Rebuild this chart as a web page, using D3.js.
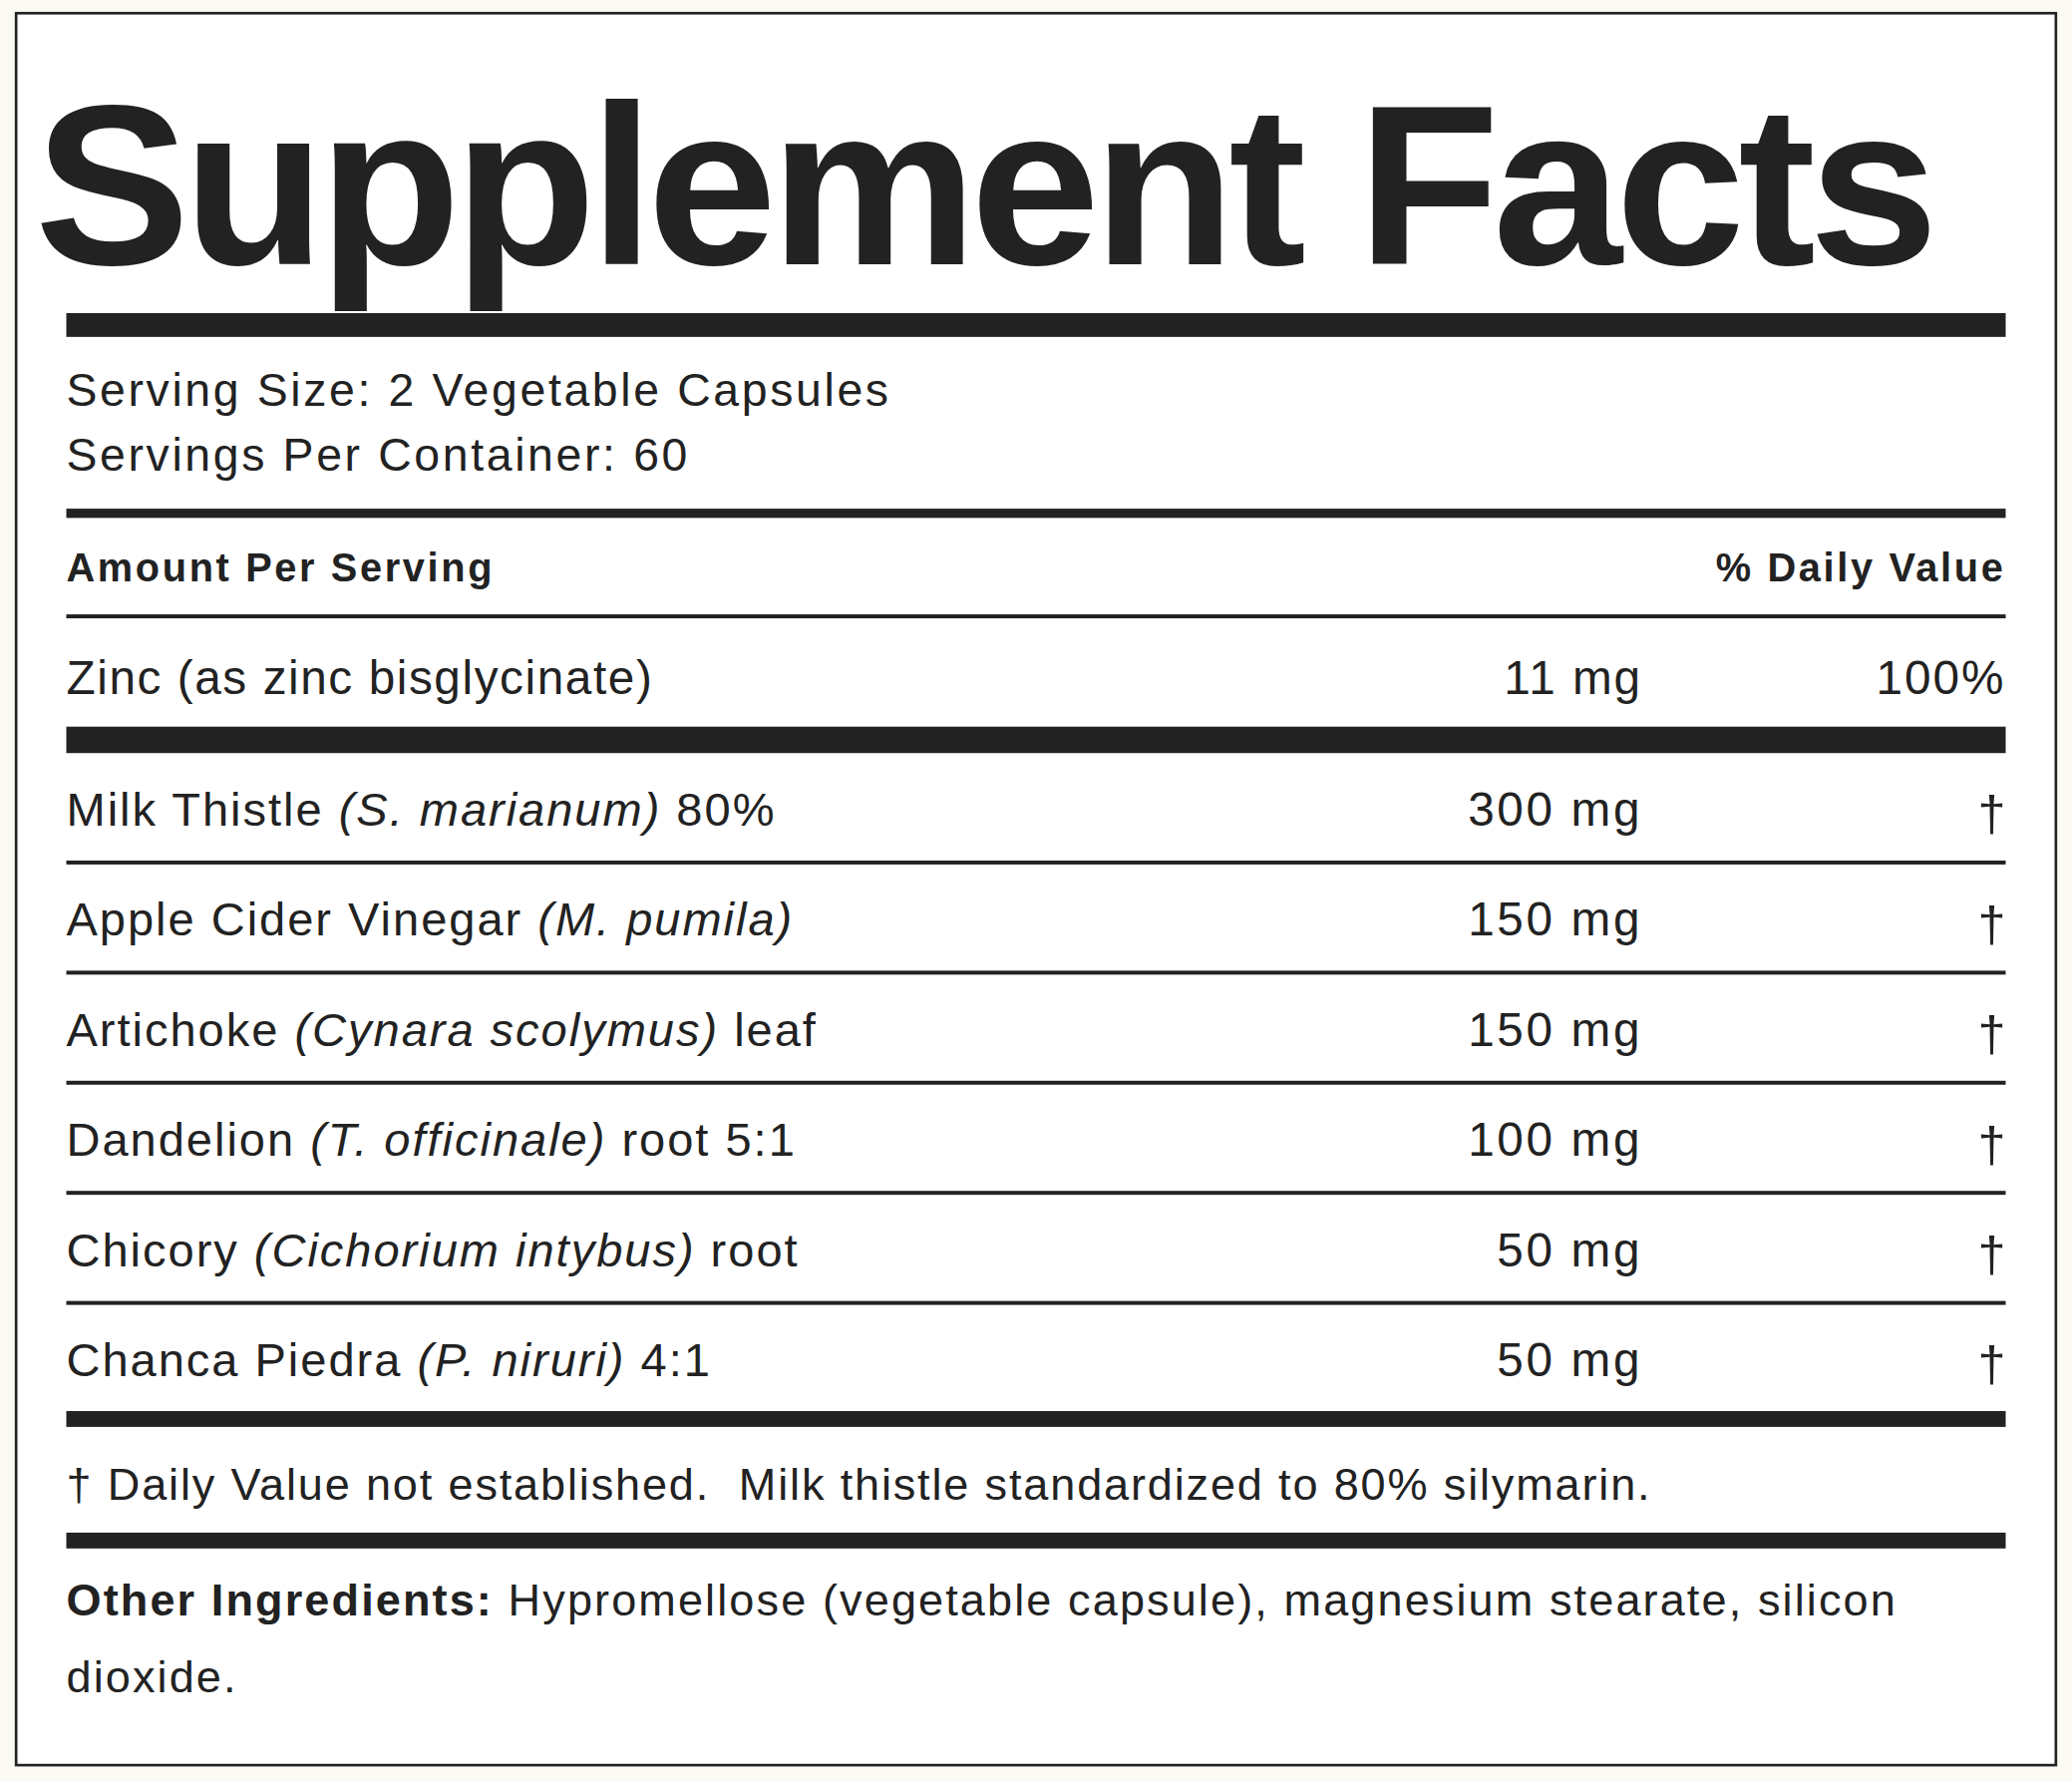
<!DOCTYPE html>
<html>
<head>
<meta charset="utf-8">
<script src="https://cdn.jsdelivr.net/npm/d3@7"></script>
<style>
  html, body { margin: 0; padding: 0; background: #fbfbf4; }
  svg { display: block; }
</style>
</head>
<body>
<svg id="chart"></svg>
<script>
// label data
const title = 'Supplement Facts'
const servingLines = ['Serving Size: 2 Vegetable Capsules', 'Servings Per Container: 60']
const zinc = { name: 'Zinc (as zinc bisglycinate)', amount: '11 mg', dv: '100%' }
const names = ['Milk Thistle', 'Apple Cider Vinegar', 'Artichoke', 'Dandelion', 'Chicory', 'Chanca Piedra']
const latin = ['(S. marianum)', '(M. pumila)', '(Cynara scolymus)', '(T. officinale)', '(Cichorium intybus)', '(P. niruri)']
const suffix = ['80%', '', 'leaf', 'root 5:1', 'root', '4:1']
const amounts = [300, 150, 150, 100, 50, 50]
const footnote = '\u2020 Daily Value not established.\u00a0 Milk thistle standardized to 80% silymarin.'
const otherIngredients = ['Hypromellose (vegetable capsule), magnesium stearate, silicon', 'dioxide.']

const W = 1568, H = 1348
const ink = '#222'
const font = '"Liberation Sans", Arial, Helvetica, sans-serif'

const svg = d3.select('#chart')
  .attr('width', 2078).attr('height', 1786)
  .attr('viewBox', `0 0 ${W} ${H}`)
  .style('font-family', font)

svg.append('rect').attr('x', 12).attr('y', 10).attr('width', 1544).attr('height', 1326)
  .attr('fill', '#fff').attr('stroke', ink).attr('stroke-width', 2)

const left = 50, right = 1518, amtX = 1243

const bar = (y, h) => svg.append('rect').attr('x', left).attr('y', y)
  .attr('width', right - left).attr('height', h).attr('fill', ink)

const text = (x, y, s, size, opts = {}) => svg.append('text')
  .attr('x', x).attr('y', y).attr('font-size', size).attr('fill', ink)
  .attr('font-weight', opts.bold ? 'bold' : null)
  .attr('text-anchor', opts.anchor || 'start')
  .attr('letter-spacing', opts.ls || 0)
  .text(s)

// title
text(26, 200, title, 172, { bold: true }).attr('letter-spacing', -5)
  .attr('textLength', 1436).attr('lengthAdjust', 'spacingAndGlyphs')
bar(237, 18)

servingLines.forEach((s, i) => text(left, 307 + i * 49, s, 35, { ls: 2 }))
bar(385, 7)

text(left, 440, 'Amount Per Serving', 30, { bold: true, ls: 2 })
text(right, 440, '% Daily Value', 30, { bold: true, anchor: 'end', ls: 2 })
bar(465, 3)

text(left, 525, zinc.name, 36, { ls: 1.2 })
text(amtX, 525, zinc.amount, 36, { anchor: 'end', ls: 1.5 })
text(right, 525, zinc.dv, 36, { anchor: 'end', ls: 1.5 })
bar(550, 20)

// herb rows
const y = d3.scaleLinear().domain([0, names.length]).range([570, 1070])
const rowH = y(1) - y(0)
names.forEach((n, i) => {
  const base = y(i) + rowH * 0.66
  const t = svg.append('text').attr('x', left).attr('y', base)
    .attr('font-size', 35.5).attr('fill', ink).attr('letter-spacing', 1.5)
  t.append('tspan').text(n + ' ')
  t.append('tspan').attr('font-style', 'italic').text(latin[i])
  if (suffix[i]) t.append('tspan').text(' ' + suffix[i])
  text(amtX, base, amounts[i] + ' mg', 36, { anchor: 'end', ls: 2 })
  text(right, base + 4, '\u2020', 38, { anchor: 'end' })
  if (i < names.length - 1) bar(y(i + 1) - 2, 3)
})
bar(1068, 12)

text(left, 1135, footnote, 34, { ls: 1.4 })
bar(1160, 12)

const oi = svg.append('text').attr('x', left).attr('y', 1223).attr('font-size', 34)
  .attr('fill', ink).attr('letter-spacing', 1.6)
oi.append('tspan').attr('font-weight', 'bold').text('Other Ingredients: ')
oi.append('tspan').text(otherIngredients[0])
text(left, 1281, otherIngredients[1], 34, { ls: 1.6 })
</script>
</body>
</html>
